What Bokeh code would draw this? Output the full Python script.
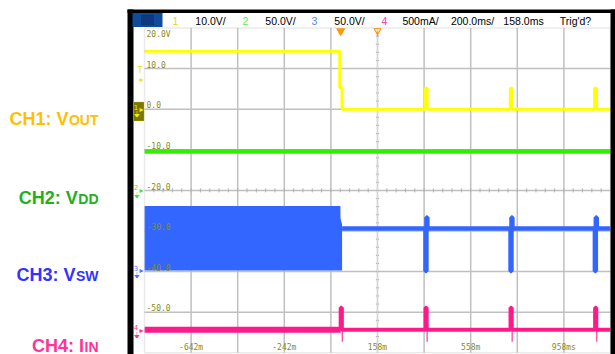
import numpy as np
from bokeh.plotting import figure
from bokeh.models import Range1d, Label, BoxAnnotation
from bokeh.embed import file_html
from bokeh.resources import INLINE

# ---------------- data ----------------
time_per_div = 200.0      # ms/div
delay_ms = 158.0          # time at screen centre
trigger_ms = 0.0

ch_names = ["CH1: V", "CH2: V", "CH3: V", "CH4: I"]
ch_subs = ["OUT", "DD", "SW", "IN"]
ch_label_colors = ["#ffc000", "#22b022", "#3333ff", "#ff3399"]
trace_colors = ["#ffff00", "#33ee00", "#3366ff", "#ff1a8c"]
marker_colors = ["#e6e600", "#55dd33", "#4f73ff", "#ff3399"]
ch_scale = [10.0, 50.0, 50.0, 0.5]        # volts (amps) per division
ch_ground = [0.0, -20.0, -40.0, -54.5]    # ground position in graticule units (CH1 axis)

# CH1 Vout (V)
vout_t = [-842, -4, -4, 6, 6, 363, 363, 371, 371, 728, 728, 736, 736, 1090, 1090, 1098, 1098, 1158]
vout_v = [14.3, 14.3, 5.3, 5.3, 0.0, 0.0, 5.15, 5.15, 0.0, 0.0, 5.15, 5.15, 0.0, 0.0, 5.15, 5.15, 0.0, 0.0]
# CH2 VDD (V)
vdd_t = [-842, 1158]
vdd_v = [48.0, 48.0]
# CH3 VSW (V): switching burst envelope before trigger, then idle level with spikes
vsw_burst_t = [-842, -1, -1, 6]
vsw_burst_lo = [1.3, 1.3, 1.3, 1.3]
vsw_burst_hi = [80.8, 80.8, 66.0, 58.0]
vsw_t = [6, 364, 364, 368, 368, 372, 372, 729, 729, 733, 733, 737, 737, 1091, 1091, 1095, 1095, 1099, 1099, 1158]
vsw_v = [53.1, 53.1, 0.8, 0.8, 66.7, 66.7, 53.1, 53.1, 0.8, 0.8, 66.7, 66.7, 53.1, 53.1, 0.8, 0.8, 66.7, 66.7, 53.1, 53.1]
# CH4 IIN (A)
iin_pre_t = [-842, 0]
iin_pre_v = [0.01, 0.01]
iin_t = [0, 0, 5, 5, 364, 364, 369, 369, 729, 729, 734, 734, 1092, 1092, 1097, 1097, 1158]
iin_v = [0.01, 0.28, 0.28, 0.01, 0.01, 0.28, 0.28, 0.01, 0.01, 0.28, 0.28, 0.01, 0.01, 0.28, 0.28, 0.01, 0.01]
iin_dip_t = [7, 371, 736, 1099]
iin_dip_v = [-0.14, -0.14, -0.14, -0.14]

# graticule labels
y_grid_vals = [10, 0, -10, -20, -30, -40, -50]
y_tick_vals = [20, 10, 0, -10, -20, -30, -40, -50]
y_tick_labels = ["20.0V", "10.0", "0.0", "-10.0", "-20.0", "-30.0", "-40.0", "-50.0"]
x_tick_vals = [-642, -242, 158, 558, 958]
x_tick_labels = ["-642m", "-242m", "158m", "558m", "958ms"]

header_texts = ["1", "10.0V/", "2", "50.0V/", "3", "50.0V/", "4", "500mA/", "200.0ms/", "158.0ms", "Trig'd?"]
header_colors = ["#e0e000", "black", "#55ee55", "black", "#5588ff", "black", "#ff33aa", "black", "black", "black", "black"]

# ---------------- geometry ----------------
W, H = 615, 354
SX = 0.233     # px per ms
SY = 4.06      # px per graticule unit
T0 = delay_ms - 5 * time_per_div
T1 = delay_ms + 5 * time_per_div
Y0, YB = 20.0, -60.0
PX0, PY0 = 144.0, 27.5   # canvas position of graticule top-left


def dx(px):
    return T0 + (px - PX0) / SX


def dy(py):
    return Y0 - (py - PY0) / SY


def disp(vals, ch):
    return [ch_ground[ch] + v / ch_scale[ch] * 10.0 for v in vals]


p = figure(width=W, height=H, x_range=Range1d(dx(0), dx(W)), y_range=Range1d(dy(H), dy(0)),
           output_backend="svg", toolbar_location=None, title=None,
           x_axis_location=None, y_axis_location=None, min_border=0,
           background_fill_color="white", border_fill_color="white", outline_line_color=None)
p.grid.visible = False

grid_col = "#c0c0c0"
grid_vt = [delay_ms + k * time_per_div for k in range(-4, 5)]
p.segment(x0=grid_vt, x1=grid_vt, y0=[YB] * len(grid_vt), y1=[Y0] * len(grid_vt),
          line_color=grid_col, line_width=1.5)
p.segment(x0=[T0] * len(y_grid_vals), x1=[T1] * len(y_grid_vals), y0=y_grid_vals, y1=y_grid_vals,
          line_color=grid_col, line_width=1.5)

# centre cross minor ticks
yt = np.arange(YB + 2, Y0, 2.0)
p.segment(x0=delay_ms - 7, x1=delay_ms + 7, y0=yt, y1=yt, line_color="#b0b0b0", line_width=1)
xt = np.arange(T0 + 40, T1, time_per_div / 5)
p.segment(x0=xt, x1=xt, y0=-20.5, y1=-19.5, line_color="#b0b0b0", line_width=1)
p.segment(x0=[delay_ms], x1=[delay_ms], y0=[YB], y1=[Y0], line_color="#d6d6d6", line_width=1)

# traces
p.line(vout_t, disp(vout_v, 0), line_color=trace_colors[0], line_width=3)
p.line(vdd_t, disp(vdd_v, 1), line_color=trace_colors[1], line_width=4.5)
p.varea(x=vsw_burst_t, y1=disp(vsw_burst_lo, 2), y2=disp(vsw_burst_hi, 2), fill_color=trace_colors[2])
p.line(vsw_t, disp(vsw_v, 2), line_color=trace_colors[2], line_width=4.5)
p.line(iin_pre_t, disp(iin_pre_v, 3), line_color=trace_colors[3], line_width=6)
p.line(iin_t, disp(iin_v, 3), line_color=trace_colors[3], line_width=4)
p.segment(x0=iin_dip_t, x1=iin_dip_t, y0=disp([0.01] * 4, 3), y1=disp(iin_dip_v, 3),
          line_color=trace_colors[3], line_width=1.3, line_alpha=0.8)

# trigger / delay markers
p.scatter([trigger_ms], [dy(30.5)], marker="inverted_triangle", size=8, fill_color="#ff9900", line_color="#ff9900")
p.scatter([delay_ms], [dy(30)], marker="inverted_triangle", size=7, fill_alpha=0, line_color="#ff9900", line_width=1.2)
p.segment(x0=[delay_ms], x1=[delay_ms], y0=[dy(31)], y1=[dy(36)], line_color="#ff9900", line_width=1)

# graticule border
p.add_layout(BoxAnnotation(left=T0, right=T1, top=Y0, bottom=YB, fill_alpha=0,
                           line_color="#b8b8b8", line_width=1.5))

# graticule numbers
lab_col = "#8a8a22"
for v, t in zip(y_tick_vals, y_tick_labels):
    yy = dy(34) if v == 20 else v + 4.3 / SY
    p.add_layout(Label(x=dx(146), y=yy, text=t, text_font="DejaVu Sans Mono", text_font_size="8px",
                       text_color=lab_col, text_baseline="middle", text_align="left"))
for v, t in zip(x_tick_vals, x_tick_labels):
    p.add_layout(Label(x=v, y=dy(347), text=t, text_font="DejaVu Sans Mono", text_font_size="8px",
                       text_color=lab_col, text_baseline="middle", text_align="center"))

# scope bezel
for l, r, t, b in [(127, 133, 9, 360), (127, 615, 9, 12.5), (610, 614.5, 9, 360)]:
    p.add_layout(BoxAnnotation(left=dx(l), right=dx(r), top=dy(t), bottom=dy(b),
                               fill_color="black", fill_alpha=1, line_alpha=0))
# header
p.add_layout(BoxAnnotation(left=dx(132), right=dx(162), top=dy(12.5), bottom=dy(26.5),
                           fill_color="#0f4c9c", fill_alpha=1, line_alpha=0))
p.add_layout(BoxAnnotation(left=dx(141), right=dx(153), top=dy(14.5), bottom=dy(24.5),
                           fill_color="#0d3a7e", fill_alpha=1, line_color="#08285a", line_width=1))
header_x = [175, 210, 245, 280, 314, 349, 384, 420, 472, 523, 575]
for hx, ht, hc in zip(header_x, header_texts, header_colors):
    p.add_layout(Label(x=dx(hx), y=dy(20), text=ht, text_font="Liberation Sans",
                       text_font_size="10.5px", text_color=hc, text_align="center", text_baseline="middle"))

# channel ground markers
p.add_layout(BoxAnnotation(left=dx(133), right=dx(143.5), top=dy(101.5), bottom=dy(120.5),
                           fill_color="#7a7600", fill_alpha=1, line_color="#d8d800", line_width=1))
marker_y = [109, 189.5, 270, 329.5]
for i, my in enumerate(marker_y):
    c = "#f0f000" if i == 0 else marker_colors[i]
    p.add_layout(Label(x=dx(135.5), y=dy(my - 3), text=str(i + 1), text_font="DejaVu Sans",
                       text_font_size="7px", text_color=c, text_align="center", text_baseline="middle"))
    p.add_layout(Label(x=dx(141), y=dy(my), text="\u25b8", text_font="DejaVu Sans",
                       text_font_size="8px", text_color=c, text_align="center", text_baseline="middle"))
    p.add_layout(Label(x=dx(136), y=dy(my + 5), text="\u23da", text_font="DejaVu Sans",
                       text_font_size="8px", text_color=c, text_align="center", text_baseline="middle"))
p.add_layout(Label(x=dx(139.5), y=dy(69.5), text="T", text_font="DejaVu Sans",
                   text_font_size="8px", text_color=marker_colors[0], text_align="center", text_baseline="middle"))
p.add_layout(Label(x=dx(141), y=dy(79), text="\u25b8", text_font="DejaVu Sans",
                   text_font_size="8px", text_color=marker_colors[0], text_align="center", text_baseline="middle"))

# channel captions (left)
main_base = [118.3, 197.3, 274, 345]
sub_w = [29.6, 20.2, 22.6, 14.0]
for name, sub, col, by, sw in zip(ch_names, ch_subs, ch_label_colors, main_base, sub_w):
    p.add_layout(Label(x=dx(98 - sw - 0.5), y=dy(by), text=name, text_font="Liberation Sans",
                       text_font_style="bold", text_font_size="18px", text_color=col,
                       text_align="right", text_baseline="alphabetic"))
    p.add_layout(Label(x=dx(98), y=dy(by + 1.2), text=sub, text_font="Liberation Sans",
                       text_font_style="bold", text_font_size="14px", text_color=col,
                       text_align="right", text_baseline="alphabetic"))

open("out.html", "w").write(file_html(p, INLINE))
